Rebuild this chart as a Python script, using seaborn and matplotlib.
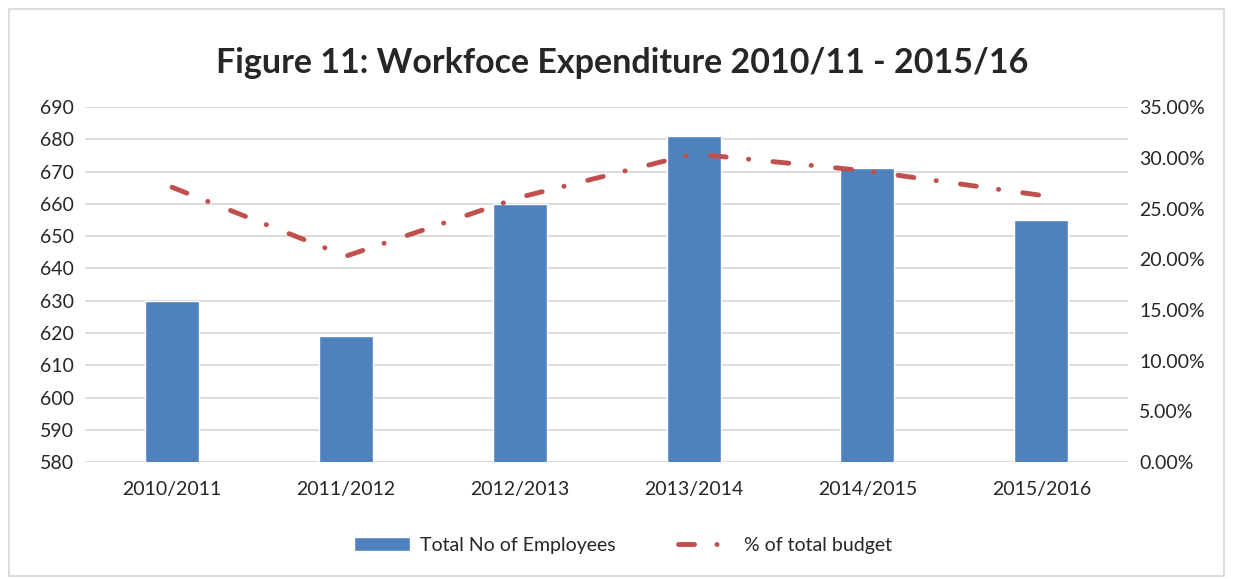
import numpy as np
import pandas as pd
import seaborn as sns
import matplotlib.pyplot as plt
from matplotlib.patches import Rectangle

years = ["2010/2011", "2011/2012", "2012/2013", "2013/2014", "2014/2015", "2015/2016"]
employees = [630, 619, 660, 681, 671, 655]
budget_pct = [27.1, 20.3, 26.1, 30.4, 28.7, 26.3]

BAR_COLOR = "#4F81BD"
LINE_COLOR = "#C0504D"

sns.set_style("white")
plt.rcParams["font.family"] = ["Lato", "DejaVu Sans"]

df = pd.DataFrame({"year": years, "employees": employees, "pct": budget_pct})

fig = plt.figure(figsize=(12.33, 5.79), dpi=100)
ax = fig.add_axes([0.069, 0.202, 0.846, 0.613])

sns.barplot(data=df, x="year", y="employees", color=BAR_COLOR, width=0.31,
            saturation=1, ax=ax, label="Total No of Employees")
# bars grow from the axis floor at 580
ax.set_ylim(580, 690)
ax.set_yticks(np.arange(580, 691, 10))
ax.yaxis.grid(True, color="#D9D9D9", lw=1.3)
ax.set_axisbelow(True)
ax.set_xlabel("")
ax.set_ylabel("")
ax.tick_params(axis="both", length=0, labelsize=14, pad=8)
ax.tick_params(axis="x", pad=14)
for s in ax.spines.values():
    s.set_visible(False)

ax2 = ax.twinx()
sns.lineplot(x=np.arange(len(years)), y=df["pct"], ax=ax2, color=LINE_COLOR,
             lw=3.5, label="% of total budget", legend=False)
ax2.lines[0].set_linestyle((0, (3.3, 4.6, 0.05, 5)))
ax2.lines[0].set_dash_capstyle("round")
ax2.set_ylim(0, 35)
ax2.set_yticks(np.arange(0, 36, 5))
ax2.set_yticklabels([f"{v:.2f}%" for v in np.arange(0, 36, 5)])
ax2.set_ylabel("")
ax2.tick_params(axis="y", length=0, labelsize=14, pad=8)
for s in ax2.spines.values():
    s.set_visible(False)

ax.set_xlim(-0.5, len(years) - 0.5)

h1, l1 = ax.get_legend_handles_labels()
h2, l2 = ax2.get_legend_handles_labels()
if ax.get_legend():
    ax.get_legend().remove()
fig.legend(h1 + h2, l1 + l2, loc="center", bbox_to_anchor=(0.505, 0.058), ncol=2,
           frameon=False, fontsize=14, handlelength=2.9, columnspacing=3.2,
           handletextpad=0.5)

fig.suptitle("Figure 11: Workfoce Expenditure 2010/11 - 2015/16", x=0.505, y=0.918,
             fontsize=24.5, fontweight="bold")

fig.patches.append(Rectangle((0.007, 0.005), 0.986, 0.98, transform=fig.transFigure,
                             fill=False, edgecolor="#D9D9D9", lw=1.3))

fig.savefig("out.png", dpi=100)
